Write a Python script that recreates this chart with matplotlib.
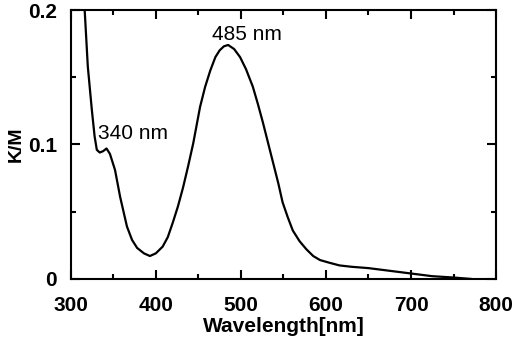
import matplotlib.pyplot as plt
from matplotlib.ticker import MultipleLocator

plt.rcParams['font.family'] = ['Liberation Sans', 'DejaVu Sans']

# spectrum
wavelength = [314, 316.5, 320, 324.7, 328, 330.6, 334, 338, 342, 346, 352, 358, 366, 372, 378,
              386, 393, 400, 408, 414, 420, 426, 432, 438, 444, 452, 458, 464, 470, 475, 480,
              485, 492, 499, 506, 514, 520, 526, 532, 538, 544, 549, 555, 561, 569, 577, 585,
              593, 604, 616, 630, 650, 675, 700, 725, 750, 770]
km = [0.215, 0.198, 0.158, 0.126, 0.106, 0.096, 0.094, 0.095, 0.097, 0.093, 0.081, 0.061, 0.039,
      0.029, 0.023, 0.019, 0.017, 0.019, 0.024, 0.031, 0.042, 0.054, 0.068, 0.084, 0.101, 0.128,
      0.143, 0.155, 0.165, 0.170, 0.173, 0.174, 0.171, 0.165, 0.156, 0.143, 0.130, 0.116, 0.101,
      0.086, 0.071, 0.057, 0.046, 0.036, 0.028, 0.022, 0.017, 0.014, 0.012, 0.010, 0.009, 0.008,
      0.006, 0.004, 0.002, 0.001, 0.0]

peak_labels = ['340 nm', '485 nm']
peak_pos = [(373, 0.108), (507, 0.182)]

fig = plt.figure(figsize=(5.13, 3.46), dpi=100)
ax = fig.add_axes([0.138, 0.194, 0.829, 0.777])

ax.plot(wavelength, km, color='black', lw=1.6)

for lab, (x, y) in zip(peak_labels, peak_pos):
    ax.text(x, y, lab, fontsize=15, ha='center', va='center')

ax.set_xlim(300, 800)
ax.set_ylim(0, 0.2)
ax.xaxis.set_major_locator(MultipleLocator(100))
ax.xaxis.set_minor_locator(MultipleLocator(50))
ax.yaxis.set_minor_locator(MultipleLocator(0.05))
ax.set_yticks([0, 0.1, 0.2])
ax.set_yticklabels(['0', '0.1', '0.2'])

ax.tick_params(which='both', direction='in', top=True, right=True, width=1.5)
ax.tick_params(which='major', length=6.5, labelsize=15)
ax.tick_params(which='minor', length=3.5)
ax.tick_params(axis='x', which='major', pad=12)
ax.tick_params(axis='y', which='major', pad=10)
for t in ax.get_xticklabels() + ax.get_yticklabels():
    t.set_fontweight('bold')
for s in ax.spines.values():
    s.set_linewidth(1.5)

ax.set_xlabel('Wavelength[nm]', fontsize=15, fontweight='bold', labelpad=2)
ax.set_ylabel('K/M', fontsize=14, fontweight='bold', labelpad=2)

fig.savefig('out.png', dpi=100)
